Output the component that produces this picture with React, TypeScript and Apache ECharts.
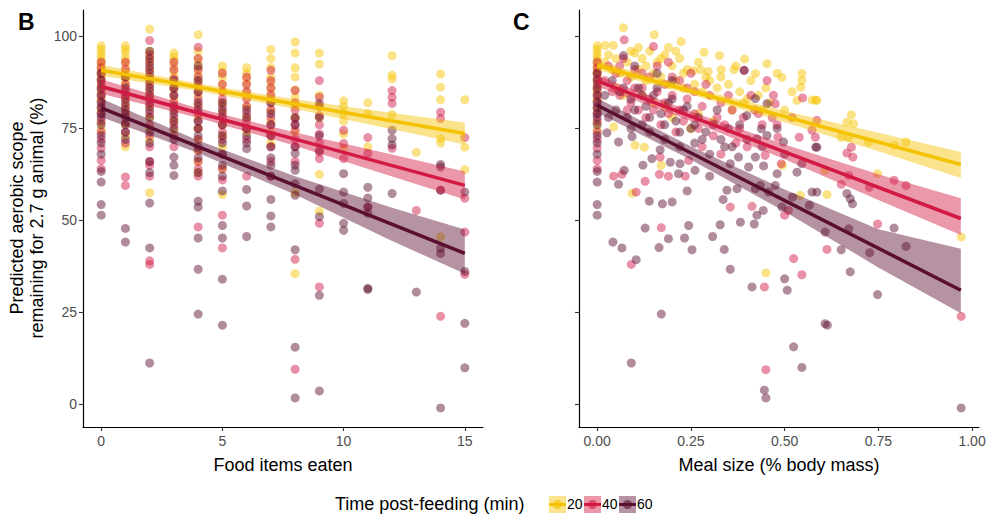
import React, { useEffect, useRef } from "react";
import * as echarts from "echarts";

// ---------- series meta ----------
const groupNames = ["20", "40", "60"];
const lineColors = ["#F4C200", "#D21A45", "#5B0F30"];

// ---------- axis ticks ----------
const yTicks = [0, 25, 50, 75, 100];
const xTicksB = [0, 5, 10, 15];
const xTicksC = [0, 0.25, 0.5, 0.75, 1];

// ---------- Panel B: food items eaten vs predicted aerobic scope ----------
const pointsB20: Array<[number, number[]]> = [
  [0, [97.5, 96.5, 95.5, 94.5, 93.5, 92.5, 91.5, 90.5, 89.5, 88, 86.5, 85, 83, 80, 76.5, 74.5]],
  [1, [97.5, 96.5, 95.5, 94, 93, 91.5, 90, 88.5, 87, 85, 83, 81, 79, 76, 73, 70]],
  [2, [102, 96, 94.5, 93, 91, 89, 87.5, 85.5, 83.5, 81, 78, 75, 72, 57.5]],
  [3, [95.5, 94.5, 93.5, 92, 90.5, 89, 87, 85.5, 83, 80, 77, 74.5]],
  [4, [100.5, 96, 94, 92.5, 91, 89.5, 88, 86, 84, 81.5, 78, 75, 72, 69, 66, 63]],
  [5, [92, 90.5, 89, 87, 85, 82, 79.5, 76, 73, 70, 64, 57]],
  [6, [91.5, 90, 88.5, 87, 85, 83.5, 81, 78, 74]],
  [7, [96.5, 94, 91.5, 89, 87.5, 86, 84.5, 83, 80, 77, 74, 71]],
  [8, [98.5, 95.5, 91.5, 89, 85.5, 83.5, 81, 78, 74, 57.5, 35.5]],
  [9, [95.5, 92.5, 84, 81, 78, 62.5, 52.5]],
  [10, [82.5, 81, 79, 77, 73.5, 69.5]],
  [11, [82, 79, 70]],
  [12, [94.8, 89.5, 88.5, 78.8]],
  [13, [68.5]],
  [14, [89.8, 86.2, 82.8, 72.2, 71, 45.5]],
  [15, [82.8, 69.9, 63.8]],
];
const pointsB40: Array<[number, number[]]> = [
  [0, [93, 91.5, 90, 88.5, 87, 85.5, 84, 82.5, 81, 79, 77, 74, 72, 69.6, 66.3, 64]],
  [1, [93, 91, 89, 87, 85, 83, 81, 79, 76.5, 74, 71, 61.8, 59.5]],
  [2, [98.9, 95, 93, 91, 89, 87, 85, 83, 81, 79, 76, 73, 70, 66, 65, 62, 39, 38]],
  [3, [93, 91, 88.5, 86, 84, 82, 80, 78, 76, 73, 70]],
  [4, [97.1, 94, 91, 89, 87, 85, 83, 81, 79, 77, 75, 72, 69, 66, 64, 62, 48.2]],
  [5, [90, 87, 85, 83, 81, 79, 76, 74, 72, 68, 64, 61, 51.4, 42.5]],
  [6, [89, 87, 85, 83, 81, 79, 77, 75, 72, 62]],
  [7, [90.8, 88, 86, 84, 82, 80, 78, 76, 73, 70, 66, 62]],
  [8, [85.3, 82, 80, 77.7, 76, 74.5, 72, 70, 66, 39.4, 9.5]],
  [9, [88, 83.5, 81, 78.5, 76, 73.5, 71, 68.5, 66.8, 49.2, 31.9]],
  [10, [74.5, 70.9, 66.8]],
  [11, [72.5, 68.2, 53.6]],
  [12, [85.3, 83.5, 81.8, 69.6]],
  [13, [52.7]],
  [14, [79.4, 77.7, 58.2, 23.9]],
  [15, [72.5, 56, 46.8, 35.3]],
];
const pointsB60: Array<[number, number[]]> = [
  [0, [90, 88, 86, 84, 82, 80.5, 79, 78, 76, 73, 71, 68, 63.3, 60.4, 54.3, 51.4]],
  [1, [89, 86, 84, 82, 80, 78, 76, 74, 72, 47.8, 44.1]],
  [2, [96, 94, 92, 90, 88, 86, 84, 82, 80, 78, 74, 71, 66, 63, 54.7, 42.5, 11.2]],
  [3, [88, 86, 84, 81, 79, 77, 75, 72, 67.2, 65, 62.2]],
  [4, [92, 88, 85, 82, 80, 77, 75, 73, 70, 67, 63, 55.2, 53.6, 45.2, 36.7, 24.5]],
  [5, [82, 80, 78, 76, 73, 71, 68, 65, 62, 58, 48.6, 45.2, 34, 21.5]],
  [6, [80, 78, 75, 73, 71, 69.5, 58.4, 53.9, 45.6]],
  [7, [82, 79, 76, 73, 70, 67, 65, 62, 55.7, 51.2, 48.2]],
  [8, [78, 76, 70, 68.2, 65, 63.6, 60, 56.8, 42, 15.5, 1.7]],
  [9, [81.8, 78, 73, 69, 58.5, 51, 29.6, 3.6]],
  [10, [62.7, 57.7, 54.6, 49.2, 47.3]],
  [11, [59, 56.1, 53.6, 51.9, 31.5, 31.2]],
  [12, [74.5, 72.2, 70.5, 57.3]],
  [13, [30.5]],
  [14, [65.2, 64.5, 58.2, 42.4, 41, -1]],
  [15, [57.7, 36.1, 22, 9.9]],
];

// fitted lines (start, end) and confidence bands [x, lower, upper]
const fitB20 = [[0, 90.8], [15, 73.6]];
const fitB40 = [[0, 86.4], [15, 59.5]];
const fitB60 = [[0, 80.6], [15, 41.0]];
const bandB20 = [[0, 89.3, 92.3], [4, 85.2, 87.2], [8, 80.3, 82.9], [12, 74.8, 79.2], [15, 70.6, 76.6]];
const bandB40 = [[0, 84.4, 88.4], [4, 77.9, 80.5], [8, 70.3, 73.9], [12, 61.9, 67.9], [15, 55.7, 63.3]];
const bandB60 = [[0, 78.1, 83.1], [4, 68.3, 71.7], [8, 57.0, 62.0], [12, 44.4, 53.4], [15, 35.5, 47.5]];

// ---------- Panel C: meal size vs predicted aerobic scope ----------
const pointsC20: number[][] = [
  [0, 97.5], [0, 96.5], [0, 95.5], [0, 94.5], [0, 93.5], [0, 92.5], [0, 91.5], [0, 90.5], [0, 89.5], [0, 88],
  [0, 86.5], [0, 85], [0, 83], [0, 80], [0, 76.5], [0, 74.5],
  [0.021, 97.6], [0.043, 97.6], [0.07, 102.4], [0.152, 100.5], [0.224, 98.6], [0.285, 95.7], [0.326, 94.8],
  [0.393, 93.9], [0.453, 92.6], [0.331, 91], [0.365, 91], [0.422, 89.9], [0.493, 88.9], [0.546, 89.9],
  [0.546, 88], [0.543, 86.2], [0.533, 82.6], [0.573, 82.7], [0.583, 82.7], [0.586, 82.6], [0.678, 78.7],
  [0.666, 76.7], [0.684, 76.3], [0.651, 72.6], [0.671, 72.5], [0.724, 71.3], [0.793, 70.4], [0.824, 71.3],
  [0.608, 63.6], [0.748, 62.7], [0.613, 57], [0.971, 45.5], [0.45, 35.7], [0.542, 56.8], [0.494, 65],
  [0.044, 75.4], [0.101, 70.4], [0.126, 69.9], [0.093, 57.4], [0.171, 65], [0.256, 90.7], [0.276, 91], [0.296, 90.5],
  [0.03, 95], [0.05, 94], [0.08, 93], [0.1, 95.5], [0.12, 94], [0.14, 96], [0.16, 93], [0.18, 95], [0.2, 92],
  [0.22, 94], [0.24, 91], [0.06, 90], [0.09, 89], [0.11, 91], [0.13, 88], [0.17, 89], [0.19, 87], [0.21, 88],
  [0.23, 86], [0.26, 87], [0.28, 85], [0.3, 88], [0.32, 86], [0.35, 87], [0.38, 85], [0.4, 83], [0.43, 84],
  [0.46, 82], [0.5, 80], [0.36, 80], [0.31, 77], [0.27, 79], [0.25, 75], [0.2, 78], [0.15, 82], [0.05, 86], [0.07, 84],
  [0.02, 93], [0.04, 91], [0.09, 96], [0.11, 97], [0.13, 92], [0.15, 90], [0.17, 94], [0.19, 97], [0.21, 96],
  [0.23, 90], [0.27, 93], [0.29, 89], [0.33, 89], [0.37, 92], [0.41, 88], [0.45, 86], [0.48, 90], [0.52, 85],
  [0.44, 80], [0.39, 82], [0.12, 84], [0.18, 81],
];
const pointsC40: number[][] = [
  [0, 93], [0, 91.5], [0, 90], [0, 88.5], [0, 87], [0, 85.5], [0, 84], [0, 82.5], [0, 81], [0, 79], [0, 77],
  [0, 74], [0, 72], [0, 69.6], [0, 66.3], [0, 64],
  [0.072, 99.1], [0.15, 97.3], [0.392, 90.8], [0.453, 88], [0.548, 83.3], [0.475, 81.7], [0.467, 77.9],
  [0.48, 76], [0.482, 72.6], [0.539, 72.6], [0.582, 72.6], [0.573, 74.5], [0.491, 65.4], [0.448, 67.7],
  [0.355, 53.6], [0.413, 53.8], [0.5, 51.4], [0.51, 52.7], [0.524, 39.6], [0.546, 35.2], [0.446, 31.9],
  [0.45, 9.4], [0.586, 77.2], [0.678, 69.9], [0.666, 68.3], [0.682, 67.2], [0.671, 62.2], [0.651, 59.8],
  [0.726, 59], [0.792, 60.9], [0.824, 59.5], [0.613, 42.1], [0.748, 49], [0.971, 23.9], [0.044, 62],
  [0.066, 62.5], [0.128, 60.6], [0.104, 57.7], [0.166, 62.5], [0.19, 62], [0.235, 62], [0.168, 67.2],
  [0.244, 66.3], [0.171, 48], [0.091, 38],
  [0.03, 92], [0.05, 90], [0.08, 88], [0.1, 91], [0.12, 86], [0.14, 89], [0.16, 85], [0.18, 87], [0.2, 84],
  [0.22, 88], [0.24, 83], [0.26, 85], [0.28, 81], [0.3, 84], [0.33, 82], [0.36, 80], [0.39, 78], [0.42, 80],
  [0.44, 76], [0.06, 84], [0.09, 82], [0.11, 80], [0.13, 78], [0.15, 80], [0.17, 76], [0.19, 79], [0.21, 74],
  [0.23, 77], [0.27, 75], [0.31, 73], [0.34, 76], [0.37, 71], [0.07, 94], [0.19, 93], [0.25, 90],
  [0.02, 88], [0.04, 85], [0.06, 92], [0.08, 80], [0.1, 86], [0.12, 90], [0.14, 83], [0.16, 92], [0.18, 82],
  [0.2, 89], [0.22, 80], [0.24, 86], [0.26, 79], [0.29, 87], [0.32, 78], [0.35, 84], [0.38, 75], [0.41, 84],
  [0.43, 79], [0.47, 84], [0.52, 78], [0.28, 70], [0.33, 68], [0.4, 70],
];
const pointsC60: number[][] = [
  [0, 90], [0, 88], [0, 86], [0, 84], [0, 82], [0, 80.5], [0, 79], [0, 78], [0, 76], [0, 73], [0, 71], [0, 68],
  [0, 63.3], [0, 60.4], [0, 54.3], [0, 51.4],
  [0.07, 94.8], [0.026, 73.8], [0.057, 71.3], [0.093, 72.8], [0.146, 66.8], [0.122, 65], [0.057, 59.8],
  [0.072, 63.6], [0.217, 62.7], [0.195, 65.8], [0.139, 55.2], [0.174, 54.5], [0.128, 47.9], [0.19, 45],
  [0.233, 45.2], [0.244, 48.6], [0.253, 42], [0.165, 42.6], [0.042, 44.1], [0.066, 42.5], [0.104, 39.3],
  [0.171, 24.5], [0.091, 11.2], [0.168, 69.2], [0.221, 65.4], [0.261, 63.6], [0.392, 90.8], [0.422, 83.1],
  [0.453, 81.7], [0.399, 78.5], [0.438, 74.9], [0.426, 72.2], [0.453, 73.1], [0.497, 71.3], [0.583, 69.9],
  [0.546, 65.4], [0.533, 63.1], [0.48, 62.7], [0.444, 64.8], [0.422, 67.2], [0.404, 64.5], [0.377, 67.2],
  [0.355, 65.4], [0.573, 57.7], [0.475, 59.5], [0.457, 57.7], [0.435, 59.5], [0.422, 58.6], [0.373, 58.6],
  [0.346, 58.2], [0.336, 55.7], [0.426, 51.4], [0.443, 52.7], [0.493, 53.6], [0.521, 56.3], [0.566, 54.1],
  [0.382, 49.5], [0.328, 48.8], [0.419, 49], [0.308, 45.6], [0.339, 42.1], [0.355, 36.7], [0.413, 31.9],
  [0.5, 34.1], [0.507, 31], [0.524, 15.6], [0.546, 10], [0.446, 3.8], [0.45, 1.7], [0.586, 69.9],
  [0.586, 57.7], [0.666, 57.3], [0.675, 55.9], [0.681, 54.5], [0.608, 46.8], [0.651, 42], [0.671, 47.7],
  [0.792, 47.9], [0.727, 41.2], [0.824, 42.9], [0.675, 36], [0.748, 29.8], [0.608, 21.9], [0.614, 21.5],
  [0.971, -1],
  [0.04, 88], [0.06, 85], [0.09, 83], [0.11, 86], [0.13, 81], [0.15, 84], [0.17, 79], [0.19, 82], [0.21, 77],
  [0.23, 80], [0.25, 75], [0.27, 78], [0.29, 74], [0.31, 76], [0.33, 72], [0.35, 75], [0.05, 80], [0.08, 78],
  [0.12, 76], [0.14, 74], [0.18, 72], [0.22, 70], [0.26, 71], [0.3, 68], [0.34, 70], [0.1, 92], [0.16, 90], [0.2, 88],
  [0.02, 84], [0.03, 78], [0.07, 86], [0.09, 75], [0.1, 80], [0.12, 84], [0.14, 78], [0.16, 86], [0.18, 76],
  [0.2, 83], [0.22, 74], [0.24, 81], [0.26, 76], [0.28, 72], [0.32, 80], [0.36, 70], [0.38, 76], [0.4, 72],
  [0.44, 70], [0.48, 75], [0.5, 68], [0.3, 62], [0.24, 58], [0.2, 55],
];

const fitC20 = [[0, 92.1], [0.97, 65.2]];
const fitC40 = [[0, 87.9], [0.97, 50.5]];
const fitC60 = [[0, 81.3], [0.97, 31.0]];
const bandC20 = [[0, 90.9, 93.3], [0.25, 84.2, 86.2], [0.5, 76.7, 79.7], [0.75, 68.8, 73.8], [0.97, 61.5, 68.6]];
const bandC40 = [[0, 86.4, 89.4], [0.25, 77.0, 79.6], [0.5, 66.6, 70.6], [0.75, 55.5, 62.5], [0.97, 46.0, 56.0]];
const bandC60 = [[0, 79.3, 83.3], [0.25, 66.5, 70.1], [0.5, 52.4, 58.4], [0.75, 37.2, 47.6], [0.97, 24.7, 42.3]];

// ---------- helpers ----------
const FONT = "'Liberation Sans', Arial, Helvetica, sans-serif";

function rgba(hex: string, a: number) {
  const h = hex.replace("#", "");
  const r = parseInt(h.slice(0, 2), 16);
  const g = parseInt(h.slice(2, 4), 16);
  const b = parseInt(h.slice(4, 6), 16);
  return `rgba(${r},${g},${b},${a})`;
}

const flattenCols = (cols: Array<[number, number[]]>) =>
  cols.flatMap(([x, ys]) => ys.map((y) => [x, y]));

const POINT_ALPHA = 0.6;
const BAND_ALPHA = 0.45;

function scatter(data: number[][], color: string, gi: number) {
  return {
    type: "scatter",
    xAxisIndex: gi,
    yAxisIndex: gi,
    data,
    symbolSize: 9,
    silent: true,
    itemStyle: { color: rgba(color, POINT_ALPHA) },
    z: 2,
  };
}

function band(rows: number[][], color: string, gi: number) {
  return {
    type: "custom",
    xAxisIndex: gi,
    yAxisIndex: gi,
    data: [[rows[0][0], rows[0][1]]],
    silent: true,
    z: 3,
    renderItem: (_params: any, api: any) => {
      const upper = rows.map((r) => api.coord([r[0], r[2]]));
      const lower = rows
        .slice()
        .reverse()
        .map((r) => api.coord([r[0], r[1]]));
      return {
        type: "polygon",
        shape: { points: upper.concat(lower) },
        style: { fill: rgba(color, BAND_ALPHA), stroke: "none" },
      };
    },
  };
}

function fitLine(data: number[][], color: string, gi: number) {
  return {
    type: "line",
    xAxisIndex: gi,
    yAxisIndex: gi,
    data,
    symbol: "none",
    silent: true,
    lineStyle: { color, width: 3.5 },
    z: 4,
  };
}

function xAxis(gi: number, min: number, max: number, ticks: number[], fmt: (v: number) => string) {
  return {
    type: "value",
    gridIndex: gi,
    min,
    max,
    splitLine: { show: false },
    axisLine: { show: true, onZero: false, lineStyle: { color: "#000", width: 1.2 } },
    axisTick: { show: true, customValues: ticks, length: 4, lineStyle: { color: "#333", width: 1.1 } },
    axisLabel: {
      show: true,
      customValues: ticks,
      formatter: fmt,
      color: "#4D4D4D",
      fontSize: 14,
      fontFamily: FONT,
      margin: 7,
    },
  };
}

function yAxis(gi: number, showLabels: boolean) {
  return {
    type: "value",
    gridIndex: gi,
    min: -6.2,
    max: 107.2,
    splitLine: { show: false },
    axisLine: { show: true, onZero: false, lineStyle: { color: "#000", width: 1.2 } },
    axisTick: { show: true, customValues: yTicks, length: 4, lineStyle: { color: "#333", width: 1.1 } },
    axisLabel: {
      show: showLabels,
      customValues: yTicks,
      color: "#4D4D4D",
      fontSize: 14,
      fontFamily: FONT,
      margin: 6,
    },
  };
}

function legendGraphics() {
  const out: any[] = [
    {
      type: "text",
      left: 335,
      top: 495,
      style: { text: "Time post-feeding (min)", fontSize: 18, fontFamily: FONT, fill: "#000" },
    },
  ];
  const keyX = [549, 584, 619];
  groupNames.forEach((name, i) => {
    const x = keyX[i];
    const y = 496;
    out.push({ type: "rect", shape: { x, y, width: 17, height: 17 }, style: { fill: rgba(lineColors[i], BAND_ALPHA) } });
    out.push({
      type: "line",
      shape: { x1: x, y1: y + 8.5, x2: x + 17, y2: y + 8.5 },
      style: { stroke: lineColors[i], lineWidth: 3 },
    });
    out.push({
      type: "circle",
      shape: { cx: x + 8.5, cy: y + 8.5, r: 4.5 },
      style: { fill: rgba(lineColors[i], POINT_ALPHA) },
    });
    out.push({
      type: "text",
      left: x + 18,
      top: 497,
      style: { text: name, fontSize: 14, fontFamily: FONT, fill: "#000" },
    });
  });
  return out;
}

export default function App() {
  const ref = useRef<HTMLDivElement>(null);

  useEffect(() => {
    if (!ref.current) return;
    const chart = echarts.init(ref.current, undefined, { renderer: "svg" });

    const ptsB = [pointsB20, pointsB40, pointsB60].map(flattenCols);
    const ptsC = [pointsC20, pointsC40, pointsC60];
    const bandsB = [bandB20, bandB40, bandB60];
    const bandsC = [bandC20, bandC40, bandC60];
    const fitsB = [fitB20, fitB40, fitB60];
    const fitsC = [fitC20, fitC40, fitC60];

    const series: any[] = [];
    ptsB.forEach((d, i) => series.push(scatter(d, lineColors[i], 0)));
    ptsC.forEach((d, i) => series.push(scatter(d, lineColors[i], 1)));
    bandsB.forEach((d, i) => series.push(band(d, lineColors[i], 0)));
    bandsC.forEach((d, i) => series.push(band(d, lineColors[i], 1)));
    fitsB.forEach((d, i) => series.push(fitLine(d, lineColors[i], 0)));
    fitsC.forEach((d, i) => series.push(fitLine(d, lineColors[i], 1)));

    const option: any = {
      animation: false,
      backgroundColor: "#fff",
      grid: [
        { left: 83, top: 10, width: 400, height: 417 },
        { left: 579, top: 10, width: 400, height: 417 },
      ],
      xAxis: [
        xAxis(0, -0.75, 15.75, xTicksB, (v: number) => String(v)),
        xAxis(1, -0.0485, 1.0185, xTicksC, (v: number) => v.toFixed(2)),
      ],
      yAxis: [yAxis(0, true), yAxis(1, false)],
      series,
      graphic: [
        { type: "text", left: 18, top: 10, style: { text: "B", fontSize: 23, fontWeight: "bold", fontFamily: FONT, fill: "#000" } },
        { type: "text", left: 513, top: 10, style: { text: "C", fontSize: 23, fontWeight: "bold", fontFamily: FONT, fill: "#000" } },
        {
          type: "text",
          x: 17,
          y: 218,
          rotation: Math.PI / 2,
          style: { text: "Predicted aerobic scope", fontSize: 18, fontFamily: FONT, fill: "#000", align: "center", verticalAlign: "middle" },
        },
        {
          type: "text",
          x: 37,
          y: 218,
          rotation: Math.PI / 2,
          style: { text: "remaining for 2.7 g animal (%)", fontSize: 18, fontFamily: FONT, fill: "#000", align: "center", verticalAlign: "middle" },
        },
        {
          type: "text",
          x: 283,
          y: 465,
          style: { text: "Food items eaten", fontSize: 18, fontFamily: FONT, fill: "#000", align: "center", verticalAlign: "middle" },
        },
        {
          type: "text",
          x: 779,
          y: 465,
          style: { text: "Meal size (% body mass)", fontSize: 18, fontFamily: FONT, fill: "#000", align: "center", verticalAlign: "middle" },
        },
        ...legendGraphics(),
      ],
    };

    chart.setOption(option);
    return () => chart.dispose();
  }, []);

  return (
    <div
      ref={ref}
      style={{ position: "fixed", left: 0, top: 0, width: 992, height: 529, background: "#fff" }}
    />
  );
}
